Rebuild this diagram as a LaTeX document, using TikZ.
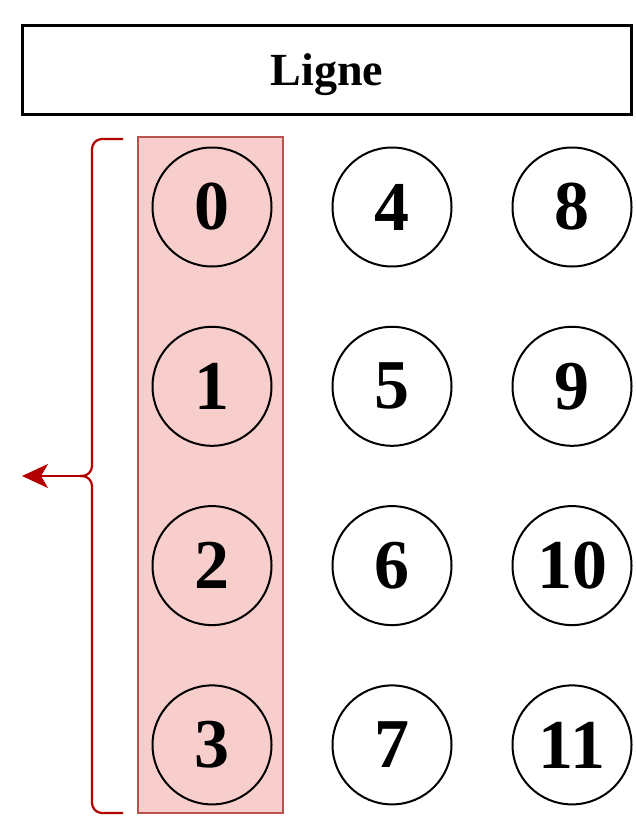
\documentclass[tikz,border=0pt]{standalone}
\usepackage{fontspec}
\setmainfont{Liberation Serif}
\usetikzlibrary{positioning,arrows.meta}
\definecolor{HlFill}{HTML}{F8CECC}
\definecolor{HlDraw}{HTML}{B85450}
\definecolor{BraceRed}{HTML}{B20000}

\begin{document}
\begin{tikzpicture}[x=1pt, y=-1pt,
  cell/.style={circle, draw=black, line width=2pt, minimum size=119pt, inner sep=0pt,
    font=\fontsize{70}{70}\selectfont\bfseries},
  header/.style={draw=black, line width=2.6pt, minimum width=609pt, minimum height=89pt,
    inner sep=0pt, text height=30pt, text depth=0pt, font=\fontsize{46}{46}\selectfont\bfseries},
  highlight/.style={draw=HlDraw, fill=HlFill, line width=2.4pt, minimum width=145pt,
    minimum height=676pt, inner sep=0pt},
  brace/.style={BraceRed, line width=2.2pt, rounded corners=10pt}]
\useasboundingbox (0,0) rectangle (636,816);
\node[header] (ligne) at (327,70) {Ligne};
\node[highlight] (colonne) at (210.5,475) {};
% cellules, numerotees par colonne
\foreach \col in {0,1,2}{
  \foreach \row in {0,1,2,3}{
    \pgfmathtruncatemacro{\num}{4*\col+\row}
    \node[cell] (c\num) at (212+180*\col, 207+179.3*\row) {\num};
  }
}
% accolade
\coordinate (bracetop) at (123,139);
\coordinate (bracebot) at (123,813);
\coordinate (bracemid) at (80,476);
\coordinate (sortie) at (22,476);
\draw[brace] (bracetop) -- (92,139) -- (92,476) -- (bracemid);
\draw[brace] (bracebot) -- (92,813) -- (92,476) -- (bracemid);
\draw[BraceRed, line width=2.2pt, -{Stealth[length=26pt, width=24pt, inset=7pt]}] (bracemid) -- (sortie);
\end{tikzpicture}
\end{document}
